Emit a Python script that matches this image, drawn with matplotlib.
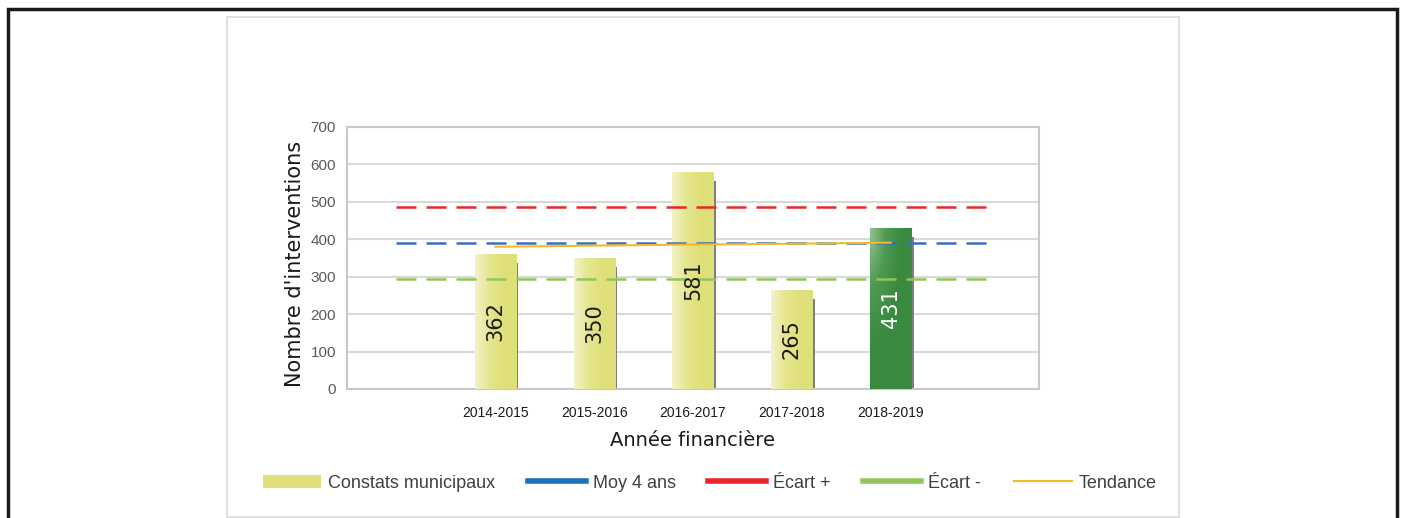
import numpy as np
import matplotlib.pyplot as plt
from matplotlib.patches import Rectangle
from matplotlib.lines import Line2D
from matplotlib.colors import LinearSegmentedColormap

plt.rcParams['font.family'] = ['Liberation Sans Narrow', 'Liberation Sans', 'DejaVu Sans']

# data
years = ['', '2014-2015', '2015-2016', '2016-2017', '2017-2018', '2018-2019', '']
constats = [362, 350, 581, 265, 431]
moy_4_ans = 389.5
ecart_plus = 486
ecart_moins = 293
tendance = [380, 383, 386, 388, 391]

fig = plt.figure(figsize=(14.06, 5.18), dpi=100)
W, H = 1406, 518

# outer black frame and inner chart frame
fig.patches.append(Rectangle((8 / W, -0.05), 1389 / W, 1.05 - 9 / H, transform=fig.transFigure,
                             fill=False, edgecolor='#1a1a1a', linewidth=2.5))
fig.patches.append(Rectangle((227 / W, 1 / H), 952 / W, 1 - 18 / H, transform=fig.transFigure,
                             fill=False, edgecolor='#d9d9d9', linewidth=1.2))

ax = fig.add_axes([347 / W, 1 - 389 / H, 692 / W, 262 / H])
x_all = np.arange(len(years))
x_bars = x_all[1:-1]

ax.set_xlim(-0.5, 6.5)
ax.set_ylim(0, 700)
ax.set_yticks(range(0, 701, 100))
ax.yaxis.grid(True, color='#d9d9d9', linewidth=1.5)
ax.set_axisbelow(True)
for s in ax.spines.values():
    s.set_color('#c8c8c8')
    s.set_linewidth(1.5)
ax.tick_params(axis='y', length=0, labelsize=11, labelcolor='#595959', pad=8)
ax.tick_params(axis='x', length=0, labelsize=10, labelcolor='#1a1a1a', pad=12)
ax.set_xticks(x_bars)
ax.set_xticklabels(years[1:-1])

bw = 0.415
# shadows
ax.bar(x_bars + bw / 2 + 0.012, np.array(constats) - 25, width=0.022, color='#7f7f7f', zorder=2)
bars = ax.bar(x_bars, constats, width=bw, color='#e0e07a', zorder=3)

yellow = LinearSegmentedColormap.from_list('y', ['#f3f2c8', '#e6e590', '#e0e07a', '#e0e07a'])
green = LinearSegmentedColormap.from_list('g', ['#93c095', '#4e9a52', '#3a8a40', '#3a8a40'])
for i, b in enumerate(bars):
    x0, w, h = b.get_x(), b.get_width(), b.get_height()
    if i == len(bars) - 1:
        xx, yy = np.meshgrid(np.linspace(0, 1, 50), np.linspace(1, 0, 50))
        grad = np.clip(np.hypot(xx, 1 - yy) * 0.9, 0, 1)
        cmap = green
    else:
        grad = np.tile(np.linspace(0, 1, 50), (2, 1))
        cmap = yellow
    im = ax.imshow(grad, cmap=cmap, extent=[x0, x0 + w, 0, h], aspect='auto',
                   zorder=3.5, interpolation='bilinear', vmin=0, vmax=1)
    im.set_clip_path(b)
    ax.text(b.get_x() + w / 2, h / 2, str(constats[i]), rotation=90, ha='center', va='center',
            fontsize=15, color='white' if i == len(bars) - 1 else '#1a1a1a', zorder=5,
            family=['DejaVu Sans'])

ax.plot([x_all[0], x_all[-1]], [ecart_plus] * 2, color='#e8262b', lw=1.8, dashes=(8, 4), zorder=4)
ax.plot([x_all[0], x_all[-1]], [moy_4_ans] * 2, color='#3a6fbf', lw=1.8, dashes=(8, 4), zorder=4)
ax.plot([x_all[0], x_all[-1]], [ecart_moins] * 2, color='#92c55a', lw=1.8, dashes=(8, 4), zorder=4)
ax.plot(x_bars, tendance, color='#f5b926', lw=1.5, zorder=4)

ax.set_ylabel("Nombre d'interventions", fontsize=15, color='#1a1a1a',
              family=['DejaVu Sans'])
ax.yaxis.set_label_coords(-0.061, 0.477)
ax.set_xlabel('Année financière', fontsize=14, color='#1a1a1a', labelpad=8,
              family=['DejaVu Sans'])

handles = [Rectangle((0, 0), 1, 1, facecolor='#e0e07a'),
           Line2D([], [], color='#1f6fbf', lw=4),
           Line2D([], [], color='#e8262b', lw=4),
           Line2D([], [], color='#92c55a', lw=4),
           Line2D([], [], color='#f5b926', lw=1.5)]
labels = ['Constats municipaux', 'Moy 4 ans', 'Écart +', 'Écart -', 'Tendance']
fig.legend(handles, labels, loc='center', bbox_to_anchor=(710 / W, 1 - 483 / H), ncol=5,
           frameon=False, fontsize=13, handlelength=3.2, columnspacing=1.8, handletextpad=0.4,
           labelcolor='#404040')

fig.savefig('out.png', dpi=100)
